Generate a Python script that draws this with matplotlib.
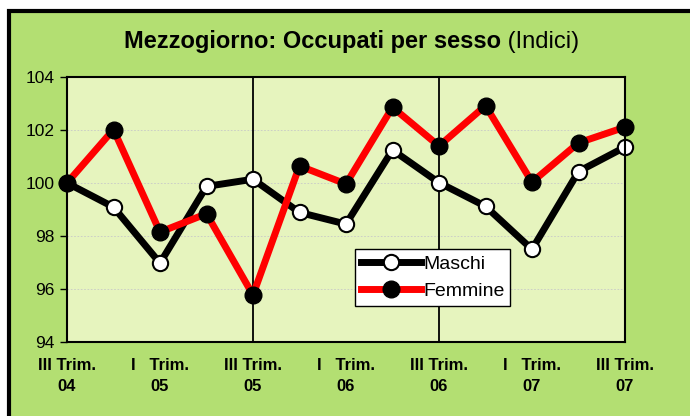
import matplotlib.pyplot as plt
from matplotlib.patches import Rectangle

periodi = ["III04", "IV04", "I05", "II05", "III05", "IV05", "I06",
           "II06", "III06", "IV06", "I07", "II07", "III07"]
maschi = [100.0, 99.09, 96.98, 99.87, 100.14, 98.89, 98.45,
          101.24, 100.01, 99.12, 97.5, 100.43, 101.35]
femmine = [100.0, 102.01, 98.15, 98.84, 95.78, 100.64, 99.96,
           102.85, 101.39, 102.91, 100.03, 101.51, 102.1]
tick_labels = ["III Trim.\n04", "I   Trim.\n05", "III Trim.\n05", "I   Trim.\n06",
               "III Trim.\n06", "I   Trim.\n07", "III Trim.\n07"]
separatori = [4, 8]

verde = "#b3df72"
chiaro = "#e6f4be"

fig = plt.figure(figsize=(6.9, 4.16), dpi=100)
fig.patch.set_facecolor("white")
fig.patches.append(Rectangle((8.5 / 690, -0.1), 1.2, 1.1 - 10.5 / 416,
                             transform=fig.transFigure, facecolor=verde,
                             edgecolor="black", linewidth=3, zorder=-5))

ax = fig.add_axes([67 / 690, 1 - 342.3 / 416, 558 / 690, 265.6 / 416])
ax.set_facecolor(chiaro)
x = list(range(len(periodi)))

for v in separatori:
    ax.axvline(v, color="black", lw=1.3, zorder=1)
for y in [96, 98, 100, 102]:
    ax.axhline(y, color="#c8c8c8", lw=0.6, ls=(0, (2, 2)), zorder=0.5)

ax.plot(x, maschi, color="black", lw=5, marker="o", ms=11,
        mfc="white", mec="black", mew=1.5, clip_on=False, zorder=2, label="Maschi")
ax.plot(x, femmine, color="#ff0000", lw=5, marker="o", ms=12,
        mfc="black", mec="black", clip_on=False, zorder=3, label="Femmine")

ax.set_xlim(0, len(periodi) - 1)
ax.set_ylim(94, 104)
ax.set_yticks(range(94, 105, 2))
ax.set_xticks(x[::2])
ax.set_xticklabels(tick_labels, fontsize=12, fontweight="bold",
                   family=["Liberation Sans Narrow", "Liberation Sans"],
                   linespacing=1.55)
ax.tick_params(axis="x", length=0, pad=11)
ax.tick_params(axis="y", length=5, width=1, direction="out", labelsize=12.5, pad=4)
for lab in ax.get_yticklabels():
    lab.set_family(["Liberation Sans", "DejaVu Sans"])
for s in ax.spines.values():
    s.set_color("black")
    s.set_linewidth(1.5)

leg = ax.legend(loc="lower left", bbox_to_anchor=(0.516, 0.137),
                frameon=True, fancybox=False, edgecolor="black",
                facecolor="white", framealpha=1,
                prop={"family": "Liberation Sans", "size": 14},
                handlelength=3.1, handletextpad=0.1, borderpad=0.3,
                labelspacing=0.5, borderaxespad=0)
leg.get_frame().set_linewidth(1)

fig.text(501 / 690, 1 - 48 / 416, "Mezzogiorno: Occupati per sesso", ha="right",
         va="baseline", fontsize=17, fontweight="bold", family="Liberation Sans")
fig.text(501 / 690, 1 - 48 / 416, " (Indici)", ha="left", va="baseline",
         fontsize=17, family="Liberation Sans")

fig.savefig("out.png", dpi=100, facecolor=fig.get_facecolor())
